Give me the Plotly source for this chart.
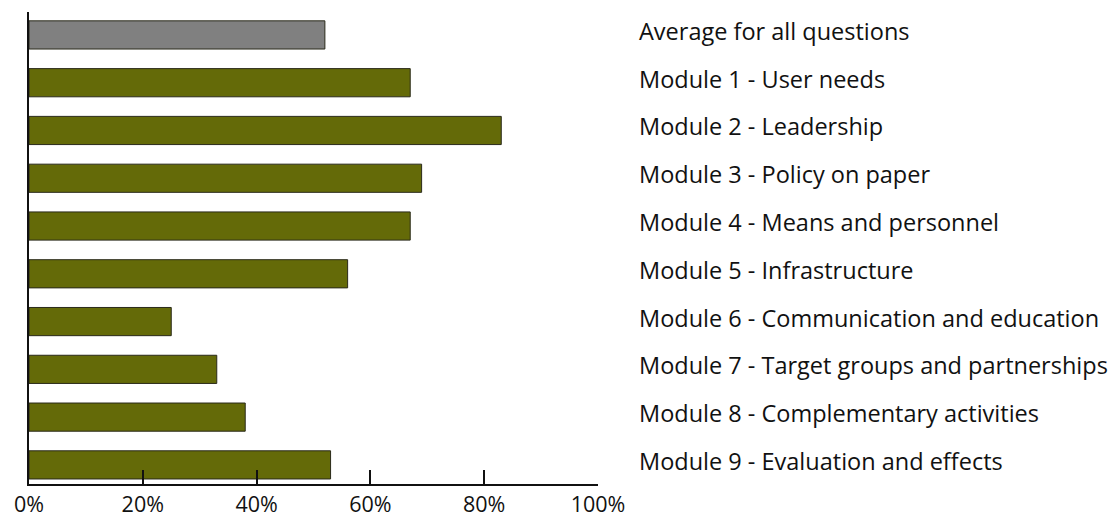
import plotly.graph_objects as go

categories = [
    "Average for all questions",
    "Module 1 - User needs",
    "Module 2 - Leadership",
    "Module 3 - Policy on paper",
    "Module 4 - Means and personnel",
    "Module 5 - Infrastructure",
    "Module 6 - Communication and education",
    "Module 7 - Target groups and partnerships",
    "Module 8 - Complementary activities",
    "Module 9 - Evaluation and effects",
]
values = [52, 67, 83, 69, 67, 56, 25, 33, 38, 53]
bar_colors = ["#808080"] + ["#646a08"] * 9
tick_vals = [0, 20, 40, 60, 80, 100]
tick_text = ["0%", "20%", "40%", "60%", "80%", "100%"]

FONT = "Open Sans"

fig = go.Figure()
fig.add_trace(go.Bar(
    x=values, y=categories, orientation="h",
    marker=dict(color=bar_colors, line=dict(color="#2a2a1a", width=1)),
    hoverinfo="x+y",
))

for c in categories:
    fig.add_annotation(
        x=1.0, xref="paper", y=c, yref="y",
        text=c, showarrow=False, xanchor="left", yanchor="middle",
        xshift=39, yshift=4,
        font=dict(family=FONT, size=23.5, color="#111111"),
    )

fig.update_layout(
    width=1114, height=518,
    margin=dict(l=29, r=516, t=12, b=34, autoexpand=False),
    paper_bgcolor="white", plot_bgcolor="white",
    showlegend=False,
    bargap=0.41,
    font=dict(family=FONT, size=22, color="#111111"),
    xaxis=dict(
        range=[0, 100], tickvals=tick_vals, ticktext=tick_text,
        showgrid=False, zeroline=False, automargin=False,
        showline=True, linecolor="#111111", linewidth=2,
        ticks="inside", ticklen=14, tickwidth=2, tickcolor="#111111",
        tickfont=dict(family=FONT, size=21.5, color="#111111"),
    ),
    yaxis=dict(
        categoryorder="array", categoryarray=categories,
        range=[9.4, -0.48], automargin=False,
        showgrid=False, zeroline=False, showticklabels=False,
        showline=True, linecolor="#111111", linewidth=2,
        ticks="",
    ),
)

fig.write_html("out.html")
